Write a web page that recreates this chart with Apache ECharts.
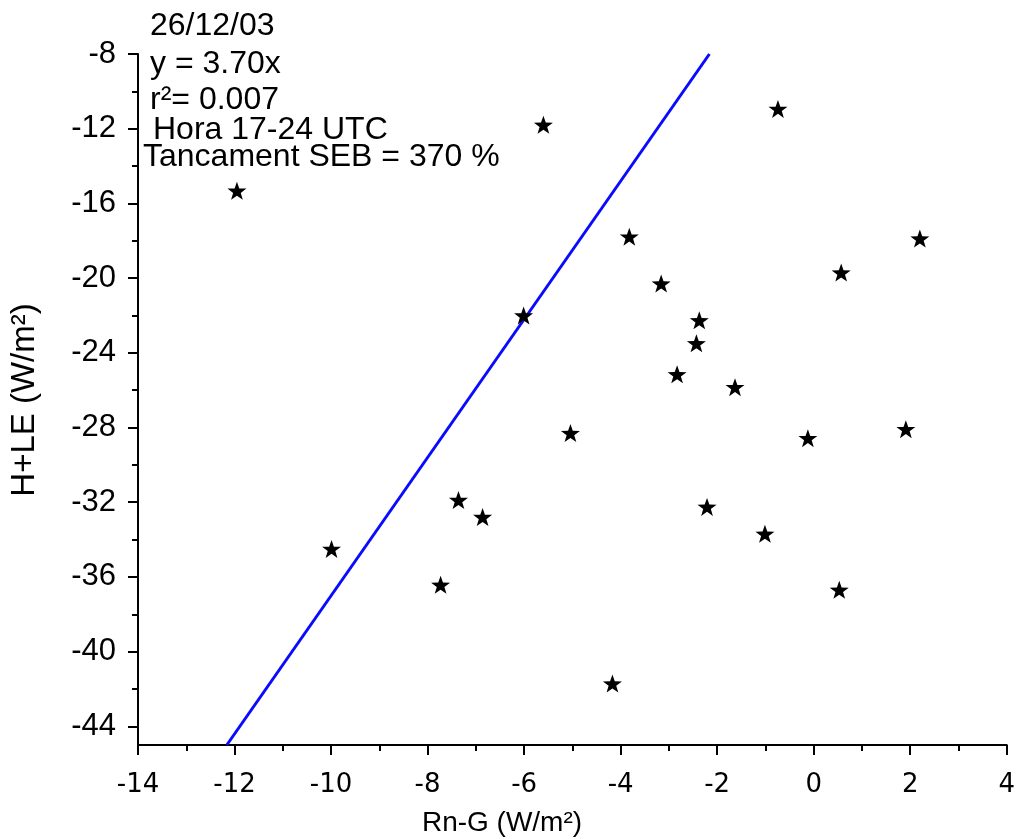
<!DOCTYPE html>
<html>
<head>
<meta charset="utf-8">
<script src="https://cdn.jsdelivr.net/npm/echarts@6/dist/echarts.min.js"></script>
<style>
html,body{margin:0;padding:0;background:#fff;}
#c{width:1018px;height:839px;}
</style>
</head>
<body>
<div id="c"></div>
<script>
// Data
var rnG = [-11.95, -5.60, -0.74, -3.82, 2.20, -3.16, 0.57, -6.01, -2.37, -2.43, -2.83, -1.63, -5.04, -0.12, 1.91, -7.36, -6.86, -2.21, -9.99, -1.01, -7.73, 0.53, -4.17];
var hLE = [-15.32, -11.79, -10.94, -17.78, -17.88, -20.29, -19.70, -22.00, -22.26, -23.49, -25.15, -25.84, -28.30, -28.57, -28.09, -31.88, -32.79, -32.25, -34.50, -33.69, -36.42, -36.69, -41.71];
var fitX = [-12.16, -2.16];
var fitY = [-45, -8];
var yMajor = [-44, -40, -36, -32, -28, -24, -20, -16, -12, -8];
var yMinor = [-42, -38, -34, -30, -26, -22, -18, -14, -10];
var annotations = ['26/12/03', 'y = 3.70x', 'r\u00b2= 0.007', 'Hora 17-24 UTC', 'Tancament SEB = 370 %'];
var xName = 'Rn-G (W/m\u00b2)';
var yName = 'H+LE (W/m\u00b2)';

var pts = rnG.map(function (x, i) { return [x, hLE[i]]; });
var fit = fitX.map(function (x, i) { return [x, fitY[i]]; });

var star = 'path://M50 0 L61.76 33.82 L97.55 34.55 L69.02 56.18 L79.39 90.45 L50 70 L20.61 90.45 L30.98 56.18 L2.45 34.55 L38.24 33.82 Z';
var AR = '"Liberation Sans", Arial, sans-serif';

var chart = echarts.init(document.getElementById('c'), null, {renderer: 'canvas'});
var annY = [25, 63, 99, 129, 156];
var annX = [150, 150, 150, 153, 143];
var graphics = annotations.map(function (t, i) {
  return {type: 'text', left: annX[i], top: annY[i] - 15, style: {text: t, font: '32px ' + AR, fill: '#000'}, z: 10};
});
graphics.push({type: 'text', x: 502, y: 823, style: {text: xName, font: '28px ' + AR, fill: '#000', align: 'center', verticalAlign: 'middle'}});
graphics.push({type: 'text', x: 25, y: 400, rotation: Math.PI / 2, style: {text: yName, font: '33px ' + AR, fill: '#000', align: 'center', verticalAlign: 'middle'}});

chart.setOption({
  animation: false,
  backgroundColor: '#fff',
  grid: {left: 138, right: 8, top: 54, bottom: 94, containLabel: false},
  xAxis: {
    type: 'value', min: -14, max: 4, interval: 2,
    axisLine: {show: true, onZero: false, lineStyle: {color: '#000', width: 2}},
    axisTick: {show: true, inside: false, length: 10, lineStyle: {color: '#000', width: 2}},
    minorTick: {show: true, splitNumber: 2, length: 6, lineStyle: {color: '#000', width: 2}},
    splitLine: {show: false},
    axisLabel: {color: '#000', fontSize: 26, fontFamily: '"DejaVu Sans", sans-serif', margin: 27}
  },
  yAxis: [{
    type: 'value', min: -45, max: -8,
    axisLine: {show: true, onZero: false, lineStyle: {color: '#000', width: 2}},
    axisTick: {show: true, length: 10, customValues: yMajor, lineStyle: {color: '#000', width: 2}},
    splitLine: {show: false},
    axisLabel: {color: '#000', fontSize: 31, fontFamily: AR, margin: 22, customValues: yMajor}
  }, {
    type: 'value', min: -45, max: -8, position: 'left',
    axisLine: {show: false, onZero: false},
    axisTick: {show: true, length: 6, customValues: yMinor, lineStyle: {color: '#000', width: 2}},
    splitLine: {show: false},
    axisLabel: {show: false}
  }],
  graphic: graphics,
  series: [{
    type: 'line', data: fit, showSymbol: false, symbol: 'none',
    lineStyle: {color: '#0a0aff', width: 3}, z: 2
  }, {
    type: 'scatter', data: pts, symbol: star, symbolSize: [19, 18],
    itemStyle: {color: '#000', opacity: 1}, z: 3
  }]
});
</script>
</body>
</html>
